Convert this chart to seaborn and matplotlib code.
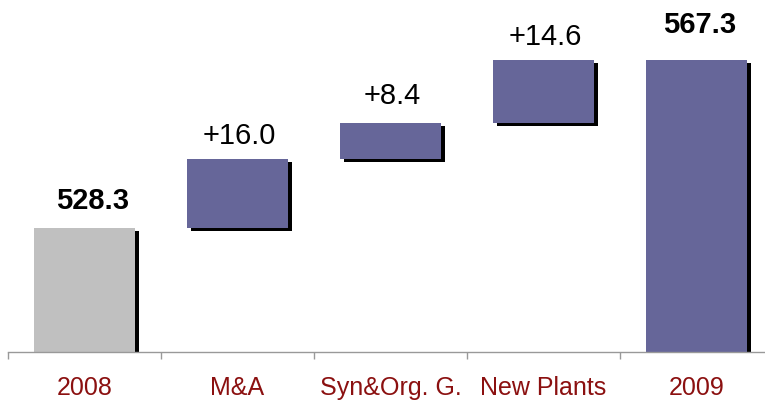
import matplotlib
matplotlib.use("Agg")
import matplotlib.pyplot as plt
import matplotlib.patheffects as pe
import numpy as np
import seaborn as sns

# Waterfall data: start value, increments, end value
categories = ["2008", "M&A", "Syn&Org. G.", "New Plants", "2009"]
start_value = 528.3
increments = [16.0, 8.4, 14.6]
end_value = 567.3
value_labels = ["528.3", "+16.0", "+8.4", "+14.6", "567.3"]

# Bar bottoms and heights built from the values above
steps = np.cumsum([start_value] + increments)
bottoms = [0.0] + list(steps[:-1]) + [0.0]
heights = [start_value] + increments + [end_value]
tops = [b + h for b, h in zip(bottoms, heights)]

GRAY = "#C0C0C0"
PURPLE = "#666699"
LABEL_RED = "#8B1010"

sns.set_style("white")
plt.rcParams["font.family"] = ["Liberation Sans", "DejaVu Sans"]

fig = plt.figure(figsize=(7.65, 4.01), dpi=100)
ax = fig.add_axes([8 / 765, 49 / 401, 757 / 765, 352 / 401])

sns.barplot(x=categories, y=heights, bottom=bottoms, color=PURPLE,
            width=0.66, saturation=1, ax=ax, errorbar=None)

shadow = [pe.SimplePatchShadow(offset=(2.6, -2.2), shadow_rgbFace="black", alpha=1.0),
          pe.Normal()]
for i, patch in enumerate(ax.patches):
    patch.set_edgecolor("none")
    patch.set_linewidth(0)
    if i == 0:
        patch.set_facecolor(GRAY)
    patch.set_path_effects(shadow)

# Value labels above each bar
x_shift = [6, 1.5, 1.5, 1.5, 2.5]     # points
y_pad = [13.5, 10.8, 13.5, 10.8, 19.4]  # points
for i, (top, txt) in enumerate(zip(tops, value_labels)):
    bold = i in (0, len(categories) - 1)
    ax.annotate(txt, xy=(i, top), xytext=(x_shift[i], y_pad[i]),
                textcoords="offset points", ha="center", va="baseline",
                fontsize=21, fontweight="bold" if bold else "normal",
                color="black")

ymin = start_value - 124.3 / 4.30
ax.set_ylim(ymin, ymin + 352 / 4.30)
ax.set_xlim(-0.5, -0.5 + 757 / 153)

for side in ["left", "right", "top"]:
    ax.spines[side].set_visible(False)
ax.spines["bottom"].set_color("#999999")
ax.spines["bottom"].set_linewidth(1.0)
ax.set_yticks([])
ax.set_ylabel("")
ax.set_xlabel("")

ax.set_xticks(range(len(categories)))
ax.set_xticklabels(categories)
ax.set_xticks(np.arange(-0.5, len(categories) - 0.5, 1.0), minor=True)
ax.tick_params(axis="x", which="major", length=0, pad=17,
               labelsize=18, labelcolor=LABEL_RED)
ax.tick_params(axis="x", which="minor", length=5, width=1.0,
               color="#999999", direction="out", bottom=True)

fig.savefig("out.png", dpi=100)
